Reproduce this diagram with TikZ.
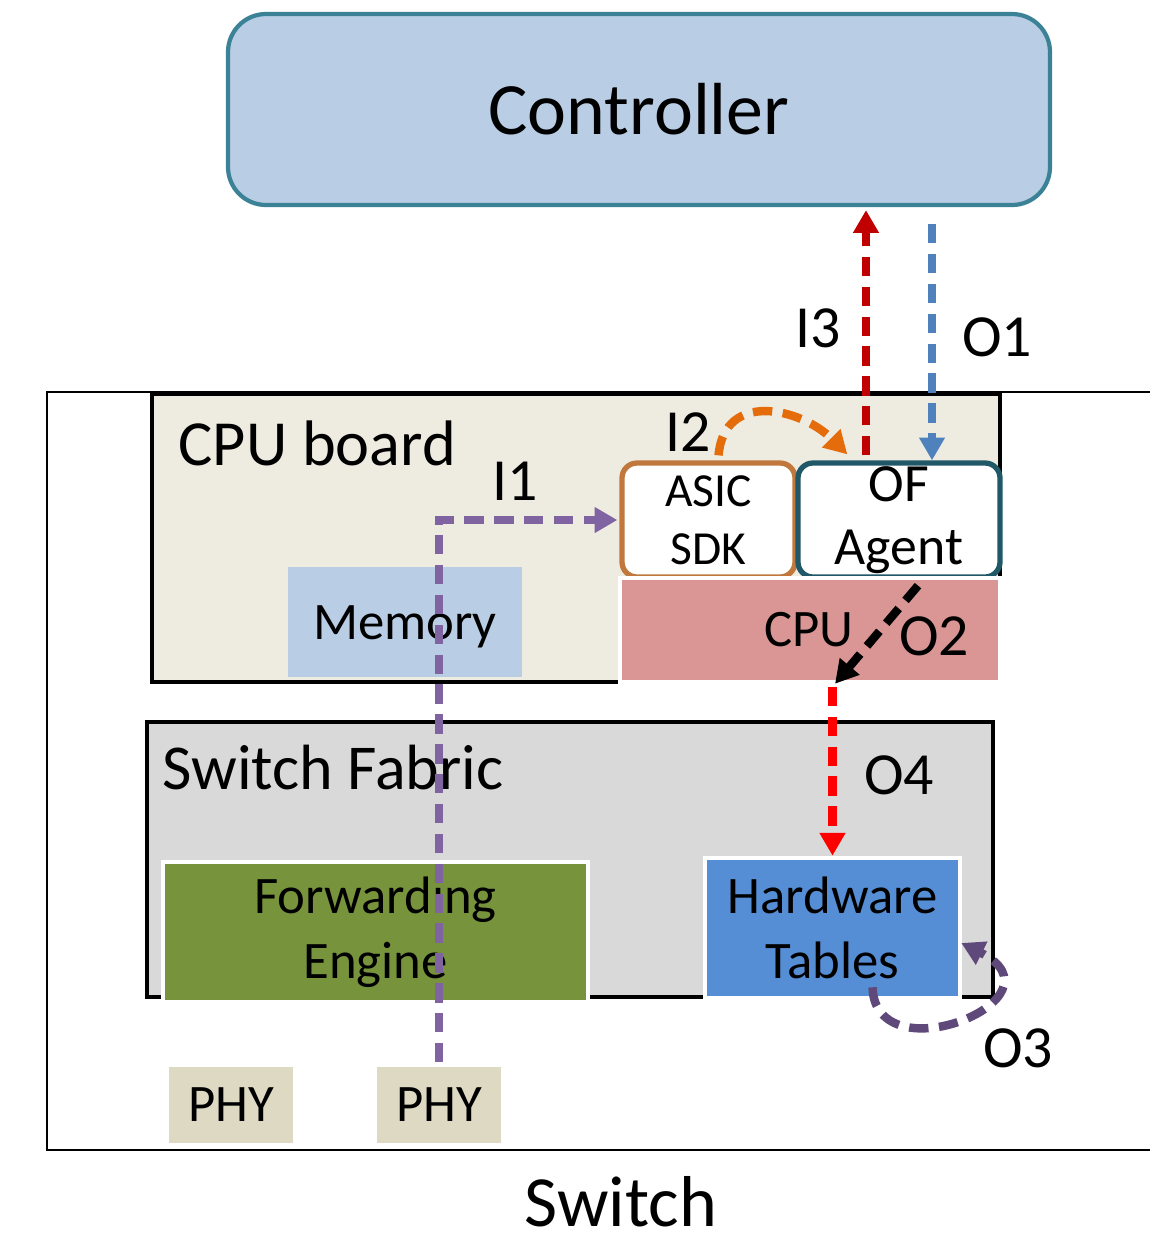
\documentclass[tikz,border=0pt]{standalone}
\usepackage{fontspec}
\setmainfont{Carlito}
\usetikzlibrary{arrows.meta}
\definecolor{ctrlfill}{HTML}{B9CDE5}
\definecolor{ctrlline}{HTML}{3C8296}
\definecolor{boardfill}{HTML}{EEECE1}
\definecolor{memfill}{HTML}{B9CDE5}
\definecolor{asicline}{HTML}{C0783C}
\definecolor{agentline}{HTML}{215867}
\definecolor{cpufill}{HTML}{D99694}
\definecolor{fabricfill}{HTML}{D9D9D9}
\definecolor{fwdfill}{HTML}{77933C}
\definecolor{hwfill}{HTML}{558ED5}
\definecolor{phyfill}{HTML}{DDD9C3}
\definecolor{ionecol}{HTML}{8064A2}
\definecolor{itwocol}{HTML}{E46C0A}
\definecolor{ithreecol}{HTML}{C00000}
\definecolor{oonecol}{HTML}{4F81BD}
\definecolor{othreecol}{HTML}{5F497A}
\definecolor{ofourcol}{HTML}{FF0000}
\begin{document}
\begin{tikzpicture}[
    block/.style={inner sep=0pt,align=center,font=\fontsize{15}{18.5}\selectfont},
    flow/.style={line width=2.4pt,dash pattern=on 5.5pt off 3pt,
      -{Triangle[width=7pt,length=6.5pt]}},
    lbl/.style={inner sep=0pt,font=\fontsize{17}{20}\selectfont}]
  \useasboundingbox (0,0) rectangle (11.5,-12.41);
  % controller and switch frame
  \node[block,draw=ctrlline,fill=ctrlfill,line width=1.2pt,rounded corners=0.38cm,
    minimum width=8.22cm,minimum height=1.91cm,font=\fontsize{21}{25}\selectfont]
    (ctrl) at (6.39,-1.095) {Controller};
  \node[draw,line width=0.7pt,minimum width=11.1cm,minimum height=7.58cm]
    (switch) at (6.02,-7.71) {};
  \node[block,font=\fontsize{20.5}{24}\selectfont] (switchlbl) at (6.21,-12.02) {Switch};
  % cpu board
  \node[draw,fill=boardfill,line width=1.3pt,minimum width=8.48cm,minimum height=2.88cm]
    (board) at (5.76,-5.38) {};
  \node[block,anchor=west,font=\fontsize{18.3}{22}\selectfont] (boardlbl) at (1.78,-4.43) {CPU board};
  \node[block,fill=memfill,minimum width=2.34cm,minimum height=1.10cm]
    (mem) at (4.05,-6.22) {};
  \node[block] (memtxt) at (4.05,-6.27) {Memory};
  \node[block,draw=asicline,fill=white,line width=1.5pt,rounded corners=0.15cm,
    minimum width=1.73cm,minimum height=1.14cm,font=\fontsize{13.5}{16.5}\selectfont]
    (asic) at (7.085,-5.20) {ASIC\\SDK};
  \node[block,draw=agentline,fill=white,line width=1.5pt,rounded corners=0.15cm,
    minimum width=2.02cm,minimum height=1.14cm,font=\fontsize{15.3}{18}\selectfont]
    (agent) at (8.99,-5.20) {OF\\Agent};
  \node[block,draw=white,fill=cpufill,line width=1pt,minimum width=3.80cm,minimum height=1.04cm]
    (cpu) at (8.10,-6.30) {};
  \node[block] (cputxt) at (8.09,-6.30) {CPU};
  % switch fabric
  \node[draw,fill=fabricfill,line width=1.3pt,minimum width=8.46cm,minimum height=2.75cm]
    (fabric) at (5.70,-8.595) {};
  \node[block,anchor=west,font=\fontsize{18.2}{22}\selectfont] (fabriclbl) at (1.62,-7.68) {Switch Fabric};
  \node[block,draw=white,fill=fwdfill,line width=1.3pt,minimum width=4.25cm,minimum height=1.40cm]
    (fwd) at (3.755,-9.32) {Forwarding\\Engine};
  \node[block,draw=white,fill=hwfill,line width=1.3pt,minimum width=2.55cm,minimum height=1.40cm]
    (hw) at (8.325,-9.28) {Hardware\\Tables};
  \node[block,fill=phyfill,minimum width=1.24cm,minimum height=0.76cm] (phya) at (2.31,-11.05) {PHY};
  \node[block,fill=phyfill,minimum width=1.24cm,minimum height=0.76cm] (phyb) at (4.39,-11.05) {PHY};
  % flows
  \draw[flow,ionecol] ([yshift=0.04cm]phyb.north) |- ([xshift=-0.02cm]asic.west);
  \draw[flow,itwocol] ([xshift=0.1cm,yshift=0.05cm]asic.north) to[out=85,in=135,looseness=1.3]
    ([xshift=0.52cm,yshift=0.06cm]agent.north west);
  \draw[flow,ithreecol] ([xshift=-0.33cm,yshift=0.05cm]agent.north)
    -- ([xshift=-0.33cm,yshift=-0.03cm]agent.north |- ctrl.south);
  \draw[flow,oonecol] ([xshift=0.33cm,yshift=-0.17cm]agent.north |- ctrl.south)
    -- ([xshift=0.33cm]agent.north);
  \draw[flow,black] ([xshift=0.19cm,yshift=-0.06cm]agent.south) -- ([xshift=0.25cm]cpu.south);
  \draw[flow,ofourcol] ([yshift=-0.03cm]hw.north |- cpu.south) -- (hw.north);
  \draw[flow,othreecol] ([xshift=0.4cm,yshift=0.13cm]hw.south)
    .. controls +(0.03,-0.9) and +(1.1,-0.55) .. ([xshift=-0.01cm,yshift=-0.15cm]hw.east);
  % flow labels
  \node[lbl] (ione) at (5.15,-4.81) {I1};
  \node[lbl] (itwo) at (6.88,-4.32) {I2};
  \node[lbl] (ithree) at (8.18,-3.28) {I3};
  \node[lbl] (oone) at (9.97,-3.37) {O1};
  \node[lbl] (otwo) at (9.34,-6.36) {O2};
  \node[lbl] (ofour) at (8.99,-7.75) {O4};
  \node[lbl] (othree) at (10.18,-10.48) {O3};
\end{tikzpicture}
\end{document}
